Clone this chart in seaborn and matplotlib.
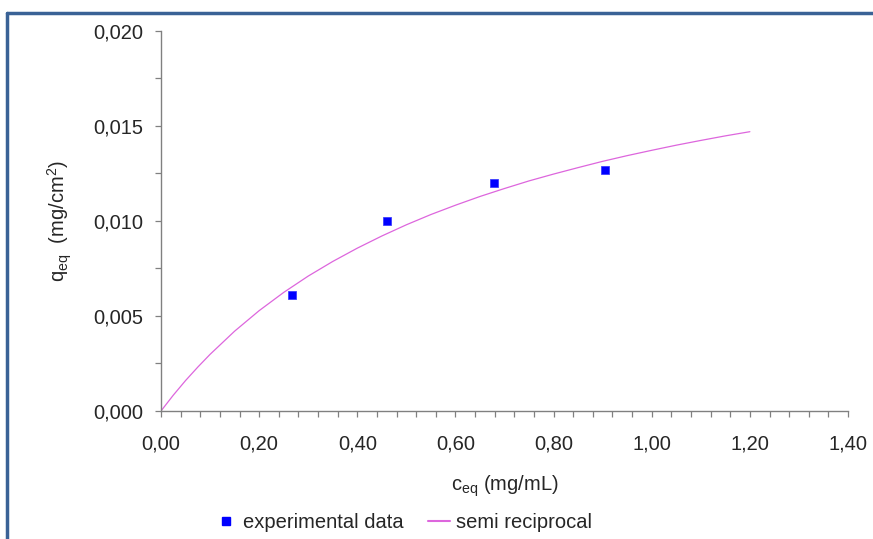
import numpy as np
import pandas as pd
import seaborn as sns
import matplotlib.pyplot as plt
from matplotlib.ticker import MultipleLocator, FuncFormatter
from matplotlib.lines import Line2D

# experimental points
c_exp = [0.267, 0.461, 0.678, 0.904]
q_exp = [0.0061, 0.0100, 0.0120, 0.0127]

c_fit = [0.00, 0.025, 0.05, 0.075, 0.10, 0.15, 0.20, 0.25, 0.30, 0.35, 0.40, 0.45, 0.50,
         0.55, 0.60, 0.65, 0.70, 0.75, 0.80, 0.85, 0.90, 0.95, 1.00, 1.05, 1.10, 1.15, 1.20]
q_fit = [0.0, 0.00083, 0.00160, 0.00231, 0.00298, 0.00420, 0.00528, 0.00624, 0.00710,
         0.00787, 0.00857, 0.00921, 0.00980, 0.01034, 0.01083, 0.01129, 0.01171, 0.01211,
         0.01247, 0.01281, 0.01314, 0.01344, 0.01372, 0.01399, 0.01424, 0.01448, 0.01470]

exp_df = pd.DataFrame({'c': c_exp, 'q': q_exp})
fit_df = pd.DataFrame({'c': c_fit, 'q': q_fit})

sns.set_style('white')
plt.rcParams['font.family'] = ['Liberation Sans', 'DejaVu Sans']
plt.rcParams['mathtext.fontset'] = 'custom'
plt.rcParams['mathtext.rm'] = 'Liberation Sans'
plt.rcParams['mathtext.it'] = 'Liberation Sans'

fs = 14.5
fig = plt.figure(figsize=(8.73, 5.39), dpi=100)
ax = fig.add_axes([0.1844, 0.2375, 0.787, 0.705])

line_col = '#DD66DD'
sns.lineplot(data=fit_df, x='c', y='q', ax=ax, color=line_col, lw=0.9, sort=False)
sns.scatterplot(data=exp_df, x='c', y='q', ax=ax, marker='s', s=36, color='#0000FF',
                edgecolor='#3030FF', linewidth=0.5, zorder=3)

ax.set_xlim(0, 1.4)
ax.set_ylim(0, 0.02)
ax.xaxis.set_major_locator(MultipleLocator(0.2))
ax.xaxis.set_minor_locator(MultipleLocator(0.04))
ax.yaxis.set_major_locator(MultipleLocator(0.005))
ax.yaxis.set_minor_locator(MultipleLocator(0.0025))
ax.xaxis.set_major_formatter(FuncFormatter(lambda v, p: f'{v:.2f}'.replace('.', ',')))
ax.yaxis.set_major_formatter(FuncFormatter(lambda v, p: f'{v:.3f}'.replace('.', ',')))

for s in ['top', 'right']:
    ax.spines[s].set_visible(False)
for s in ['left', 'bottom']:
    ax.spines[s].set_color('#808080')
    ax.spines[s].set_linewidth(1.0)

ax.tick_params(which='both', direction='out', length=4, width=0.9, color='#808080',
               left=True, bottom=True)
ax.tick_params(axis='x', which='major', labelsize=fs, pad=13)
ax.tick_params(axis='y', which='major', labelsize=fs, pad=9)

ax.set_xlabel(r'c$_{\mathrm{eq}}$ (mg/mL)', fontsize=fs, labelpad=14)
ax.set_ylabel(r'q$_{\mathrm{eq}}$  (mg/cm$^{2}$)', fontsize=fs, labelpad=13.5)

handles = [Line2D([], [], marker='s', color='#0000FF', ls='none', markersize=5.5),
           Line2D([], [], color=line_col, lw=1.5)]
fig.legend(handles, ['experimental data', 'semi reciprocal'], loc='center',
           bbox_to_anchor=(0.462, 0.031), ncol=2, frameon=False, fontsize=fs,
           handlelength=1.1, handletextpad=0.3, columnspacing=1.2)

# blue frame: top and left edges of the chart area
frame_col = '#3A6296'
fig.add_artist(Line2D([7 / 873, 1.0], [1 - 13 / 539] * 2, transform=fig.transFigure,
                      color=frame_col, lw=2.5))
fig.add_artist(Line2D([7 / 873] * 2, [0.0, 1 - 13 / 539], transform=fig.transFigure,
                      color=frame_col, lw=2.5))

fig.savefig('out.png', dpi=100)
